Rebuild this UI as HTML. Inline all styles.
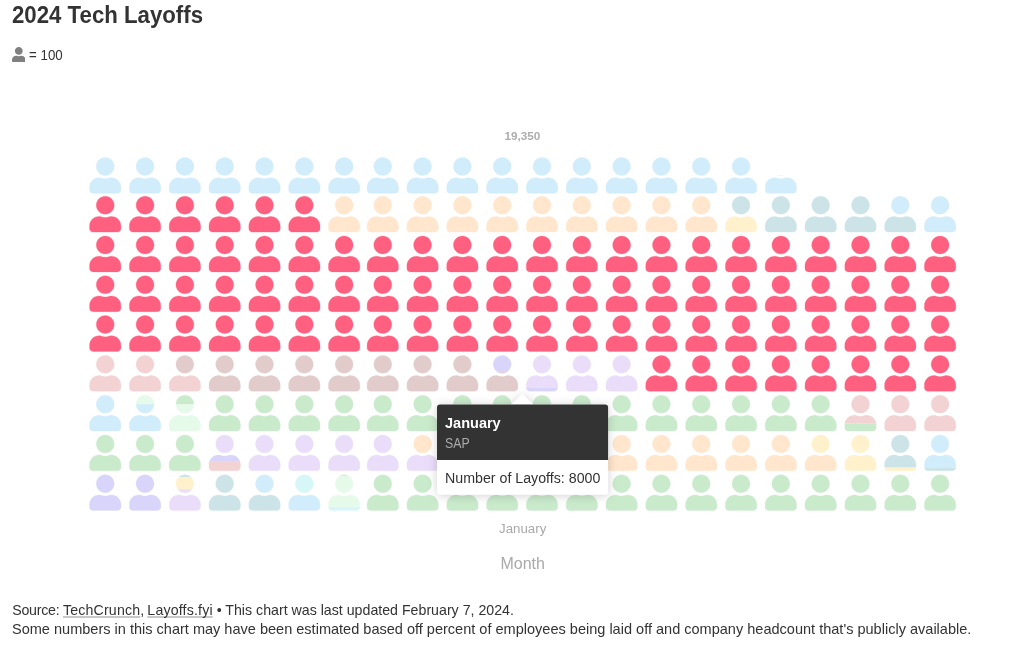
<!DOCTYPE html>
<html lang="en">
<head>
<meta charset="utf-8">
<title>2024 Tech Layoffs</title>
<style>
html,body{margin:0;padding:0;background:#fff;}
body{width:1024px;height:661px;position:relative;overflow:hidden;font-family:"Liberation Sans",sans-serif;color:#333;}
.t{position:absolute;white-space:nowrap;transform-origin:0 0;line-height:1;margin:0;}
h1.t{left:12.2px;top:4.3px;font-size:23px;font-weight:bold;color:#333;transform:scaleX(.966);}
.legend-icon{position:absolute;left:11.6px;top:46.6px;width:13.6px;height:15.5px;}
.legend-label{left:29.2px;top:47.9px;font-size:14.4px;transform:scaleX(.925);}
#chart{position:absolute;left:0;top:0;width:1024px;height:661px;}
/*total*/.total{font:bold 11.8px "Liberation Sans",sans-serif;fill:#adadad;}
.xtick{font:13px "Liberation Sans",sans-serif;fill:#a9a9a9;}
.xtitle{font:16.2px "Liberation Sans",sans-serif;fill:#a9a9a9;}
.tooltip{position:absolute;left:437px;top:404px;width:171px;height:91px;}
.tooltip svg.bg{position:absolute;left:0;top:0;width:171px;height:91px;overflow:visible;filter:drop-shadow(0 1px 5px rgba(0,0,0,.18));}
.tt1{left:7.9px;top:11.9px;font-size:14px;font-weight:bold;color:#fff;transform:scaleX(1.037);}
.tt2{left:7.9px;top:31.7px;font-size:14px;color:#aaa;transform:scaleX(.88);}
.tt3{left:7.9px;top:67px;font-size:14px;color:#333;transform:scaleX(1.015);}
.foot{left:12.2px;font-size:14.2px;color:#333;}
.f1{top:602.8px;transform:scaleX(1.0);}
.f2{top:622.4px;transform:scaleX(1.0241);}
.foot a{color:#333;text-decoration:underline;text-decoration-color:#c8c8c8;text-decoration-thickness:1.5px;text-underline-offset:.8px;text-decoration-skip-ink:none;}
</style>
</head>
<body>
<h1 class="t">2024 Tech Layoffs</h1>
<svg class="legend-icon" viewBox="0 0 448 512"><path fill="#808080" d="M224 256c70.7 0 128-57.3 128-128S294.7 0 224 0 96 57.3 96 128s57.3 128 128 128zm89.6 32h-16.7c-22.2 10.2-46.9 16-72.9 16s-50.600-5.800-72.900-16h-16.700C60.200 288 0 348.200 0 422.400V464c0 26.500 21.500 48 48 48h352c26.500 0 48-21.500 48-48v-41.600c0-74.200-60.200-134.400-134.400-134.400z"/></svg>
<div class="t legend-label">= 100</div>

<svg id="chart" viewBox="0 0 1024 661">
<defs>
<path id="up" d="M224 256c70.7 0 128-57.3 128-128S294.7 0 224 0 96 57.3 96 128s57.3 128 128 128zm89.6 32h-16.7c-22.2 10.2-46.9 16-72.9 16s-50.600-5.800-72.900-16h-16.700C60.200 288 0 348.200 0 422.400V464c0 26.500 21.500 48 48 48h352c26.500 0 48-21.500 48-48v-41.600c0-74.200-60.200-134.400-134.400-134.400z"/>
<symbol id="u" overflow="visible" viewBox="0 0 448 512" width="31.36" height="35.84"><use href="#up"/></symbol>
<mask id="um" maskUnits="userSpaceOnUse" x="-2" y="-2" width="35.36" height="39.84"><use href="#up" transform="scale(0.07)" fill="#fff" stroke="#fff" stroke-opacity=".6" stroke-width="7.14"/></mask>
</defs>
<text class="total" x="522.4" y="140.2" text-anchor="middle" textLength="35.9" lengthAdjust="spacingAndGlyphs">19,350</text>
<g id="icons" stroke-width="7.14" stroke-opacity=".6">
<use href="#u" x="89.57" y="474.73" fill="#d9d4fa" stroke="#d9d4fa"/>
<use href="#u" x="129.39" y="474.73" fill="#d9d4fa" stroke="#d9d4fa"/>
<g transform="translate(169.21 474.73)" mask="url(#um)" stroke="none"><rect x="-2" y="14.44" width="35.36" height="23.40" fill="#eaddfa"/><rect x="-2" y="2.33" width="35.36" height="12.11" fill="#fff1cc"/><rect x="-2" y="-2.00" width="35.36" height="4.33" fill="#cce4e8"/></g>
<use href="#u" x="209.03" y="474.73" fill="#cce4e8" stroke="#cce4e8"/>
<g transform="translate(248.85 474.73)" mask="url(#um)" stroke="none"><rect x="-2" y="19.71" width="35.36" height="18.13" fill="#cce4e8"/><rect x="-2" y="-2.00" width="35.36" height="21.71" fill="#d1ecfb"/></g>
<g transform="translate(288.67 474.73)" mask="url(#um)" stroke="none"><rect x="-2" y="19.71" width="35.36" height="18.13" fill="#d1ecfb"/><rect x="-2" y="-2.00" width="35.36" height="21.71" fill="#d6f6f8"/></g>
<g transform="translate(328.49 474.73)" mask="url(#um)" stroke="none"><rect x="-2" y="32.08" width="35.36" height="5.76" fill="#d6f6f8"/><rect x="-2" y="1.08" width="35.36" height="31.00" fill="#e6faea"/><rect x="-2" y="-2.00" width="35.36" height="3.08" fill="#caeacc"/></g>
<use href="#u" x="367.10" y="474.73" fill="#caeacc" stroke="#caeacc"/>
<use href="#u" x="406.91" y="474.73" fill="#caeacc" stroke="#caeacc"/>
<use href="#u" x="446.72" y="474.73" fill="#caeacc" stroke="#caeacc"/>
<use href="#u" x="486.53" y="474.73" fill="#caeacc" stroke="#caeacc"/>
<use href="#u" x="526.34" y="474.73" fill="#caeacc" stroke="#caeacc"/>
<use href="#u" x="566.15" y="474.73" fill="#caeacc" stroke="#caeacc"/>
<use href="#u" x="605.96" y="474.73" fill="#caeacc" stroke="#caeacc"/>
<use href="#u" x="645.77" y="474.73" fill="#caeacc" stroke="#caeacc"/>
<use href="#u" x="685.58" y="474.73" fill="#caeacc" stroke="#caeacc"/>
<use href="#u" x="725.39" y="474.73" fill="#caeacc" stroke="#caeacc"/>
<use href="#u" x="765.20" y="474.73" fill="#caeacc" stroke="#caeacc"/>
<use href="#u" x="805.01" y="474.73" fill="#caeacc" stroke="#caeacc"/>
<use href="#u" x="844.82" y="474.73" fill="#caeacc" stroke="#caeacc"/>
<use href="#u" x="884.63" y="474.73" fill="#caeacc" stroke="#caeacc"/>
<use href="#u" x="924.44" y="474.73" fill="#caeacc" stroke="#caeacc"/>
<use href="#u" x="89.57" y="434.95" fill="#caeacc" stroke="#caeacc"/>
<use href="#u" x="129.39" y="434.95" fill="#caeacc" stroke="#caeacc"/>
<g transform="translate(169.21 434.95)" mask="url(#um)" stroke="none"><rect x="-2" y="1.00" width="35.36" height="36.84" fill="#caeacc"/><rect x="-2" y="-2.00" width="35.36" height="3.00" fill="#f2d2d2"/></g>
<g transform="translate(209.03 434.95)" mask="url(#um)" stroke="none"><rect x="-2" y="26.16" width="35.36" height="11.68" fill="#f2d2d2"/><rect x="-2" y="19.71" width="35.36" height="6.45" fill="#d9d4fa"/><rect x="-2" y="-2.00" width="35.36" height="21.71" fill="#eaddfa"/></g>
<use href="#u" x="248.85" y="434.95" fill="#eaddfa" stroke="#eaddfa"/>
<use href="#u" x="288.67" y="434.95" fill="#eaddfa" stroke="#eaddfa"/>
<use href="#u" x="328.49" y="434.95" fill="#eaddfa" stroke="#eaddfa"/>
<use href="#u" x="367.10" y="434.95" fill="#eaddfa" stroke="#eaddfa"/>
<g transform="translate(406.91 434.95)" mask="url(#um)" stroke="none"><rect x="-2" y="19.71" width="35.36" height="18.13" fill="#eaddfa"/><rect x="-2" y="-2.00" width="35.36" height="21.71" fill="#ffe6cc"/></g>
<use href="#u" x="446.72" y="434.95" fill="#ffe6cc" stroke="#ffe6cc"/>
<use href="#u" x="486.53" y="434.95" fill="#ffe6cc" stroke="#ffe6cc"/>
<use href="#u" x="526.34" y="434.95" fill="#ffe6cc" stroke="#ffe6cc"/>
<use href="#u" x="566.15" y="434.95" fill="#ffe6cc" stroke="#ffe6cc"/>
<use href="#u" x="605.96" y="434.95" fill="#ffe6cc" stroke="#ffe6cc"/>
<use href="#u" x="645.77" y="434.95" fill="#ffe6cc" stroke="#ffe6cc"/>
<use href="#u" x="685.58" y="434.95" fill="#ffe6cc" stroke="#ffe6cc"/>
<use href="#u" x="725.39" y="434.95" fill="#ffe6cc" stroke="#ffe6cc"/>
<use href="#u" x="765.20" y="434.95" fill="#ffe6cc" stroke="#ffe6cc"/>
<g transform="translate(805.01 434.95)" mask="url(#um)" stroke="none"><rect x="-2" y="19.71" width="35.36" height="18.13" fill="#ffe6cc"/><rect x="-2" y="-2.00" width="35.36" height="21.71" fill="#fff1cc"/></g>
<use href="#u" x="844.82" y="434.95" fill="#fff1cc" stroke="#fff1cc"/>
<g transform="translate(884.63 434.95)" mask="url(#um)" stroke="none"><rect x="-2" y="32.44" width="35.36" height="5.40" fill="#fff1cc"/><rect x="-2" y="-2.00" width="35.36" height="34.44" fill="#cce4e8"/></g>
<g transform="translate(924.44 434.95)" mask="url(#um)" stroke="none"><rect x="-2" y="32.44" width="35.36" height="5.40" fill="#cce4e8"/><rect x="-2" y="-2.00" width="35.36" height="34.44" fill="#d1ecfb"/></g>
<use href="#u" x="89.57" y="395.17" fill="#d1ecfb" stroke="#d1ecfb"/>
<g transform="translate(129.39 395.17)" mask="url(#um)" stroke="none"><rect x="-2" y="8.96" width="35.36" height="28.88" fill="#d1ecfb"/><rect x="-2" y="-2.00" width="35.36" height="10.96" fill="#e6faea"/></g>
<g transform="translate(169.21 395.17)" mask="url(#um)" stroke="none"><rect x="-2" y="8.96" width="35.36" height="28.88" fill="#e6faea"/><rect x="-2" y="-2.00" width="35.36" height="10.96" fill="#caeacc"/></g>
<use href="#u" x="209.03" y="395.17" fill="#caeacc" stroke="#caeacc"/>
<use href="#u" x="248.85" y="395.17" fill="#caeacc" stroke="#caeacc"/>
<use href="#u" x="288.67" y="395.17" fill="#caeacc" stroke="#caeacc"/>
<use href="#u" x="328.49" y="395.17" fill="#caeacc" stroke="#caeacc"/>
<use href="#u" x="367.10" y="395.17" fill="#caeacc" stroke="#caeacc"/>
<use href="#u" x="406.91" y="395.17" fill="#caeacc" stroke="#caeacc"/>
<use href="#u" x="446.72" y="395.17" fill="#caeacc" stroke="#caeacc"/>
<use href="#u" x="486.53" y="395.17" fill="#caeacc" stroke="#caeacc"/>
<use href="#u" x="526.34" y="395.17" fill="#caeacc" stroke="#caeacc"/>
<use href="#u" x="566.15" y="395.17" fill="#caeacc" stroke="#caeacc"/>
<use href="#u" x="605.96" y="395.17" fill="#caeacc" stroke="#caeacc"/>
<use href="#u" x="645.77" y="395.17" fill="#caeacc" stroke="#caeacc"/>
<use href="#u" x="685.58" y="395.17" fill="#caeacc" stroke="#caeacc"/>
<use href="#u" x="725.39" y="395.17" fill="#caeacc" stroke="#caeacc"/>
<use href="#u" x="765.20" y="395.17" fill="#caeacc" stroke="#caeacc"/>
<use href="#u" x="805.01" y="395.17" fill="#caeacc" stroke="#caeacc"/>
<g transform="translate(844.82 395.17)" mask="url(#um)" stroke="none"><rect x="-2" y="28.31" width="35.36" height="9.53" fill="#caeacc"/><rect x="-2" y="-2.00" width="35.36" height="30.31" fill="#f2d2d2"/></g>
<use href="#u" x="884.63" y="395.17" fill="#f2d2d2" stroke="#f2d2d2"/>
<use href="#u" x="924.44" y="395.17" fill="#f2d2d2" stroke="#f2d2d2"/>
<use href="#u" x="89.57" y="355.39" fill="#f2d2d2" stroke="#f2d2d2"/>
<use href="#u" x="129.39" y="355.39" fill="#f2d2d2" stroke="#f2d2d2"/>
<g transform="translate(169.21 355.39)" mask="url(#um)" stroke="none"><rect x="-2" y="19.71" width="35.36" height="18.13" fill="#f2d2d2"/><rect x="-2" y="-2.00" width="35.36" height="21.71" fill="#e2cbcb"/></g>
<use href="#u" x="209.03" y="355.39" fill="#e2cbcb" stroke="#e2cbcb"/>
<use href="#u" x="248.85" y="355.39" fill="#e2cbcb" stroke="#e2cbcb"/>
<use href="#u" x="288.67" y="355.39" fill="#e2cbcb" stroke="#e2cbcb"/>
<use href="#u" x="328.49" y="355.39" fill="#e2cbcb" stroke="#e2cbcb"/>
<use href="#u" x="367.10" y="355.39" fill="#e2cbcb" stroke="#e2cbcb"/>
<use href="#u" x="406.91" y="355.39" fill="#e2cbcb" stroke="#e2cbcb"/>
<use href="#u" x="446.72" y="355.39" fill="#e2cbcb" stroke="#e2cbcb"/>
<g transform="translate(486.53 355.39)" mask="url(#um)" stroke="none"><rect x="-2" y="16.70" width="35.36" height="21.14" fill="#e2cbcb"/><rect x="-2" y="-2.00" width="35.36" height="18.70" fill="#d9d4fa"/></g>
<g transform="translate(526.34 355.39)" mask="url(#um)" stroke="none"><rect x="-2" y="32.61" width="35.36" height="5.23" fill="#d9d4fa"/><rect x="-2" y="-2.00" width="35.36" height="34.61" fill="#eaddfa"/></g>
<use href="#u" x="566.15" y="355.39" fill="#eaddfa" stroke="#eaddfa"/>
<use href="#u" x="605.96" y="355.39" fill="#eaddfa" stroke="#eaddfa"/>
<use href="#u" x="645.77" y="355.39" fill="#ff6080" stroke="#ff6080"/>
<use href="#u" x="685.58" y="355.39" fill="#ff6080" stroke="#ff6080"/>
<use href="#u" x="725.39" y="355.39" fill="#ff6080" stroke="#ff6080"/>
<use href="#u" x="765.20" y="355.39" fill="#ff6080" stroke="#ff6080"/>
<use href="#u" x="805.01" y="355.39" fill="#ff6080" stroke="#ff6080"/>
<use href="#u" x="844.82" y="355.39" fill="#ff6080" stroke="#ff6080"/>
<use href="#u" x="884.63" y="355.39" fill="#ff6080" stroke="#ff6080"/>
<use href="#u" x="924.44" y="355.39" fill="#ff6080" stroke="#ff6080"/>
<use href="#u" x="89.57" y="315.61" fill="#ff6080" stroke="#ff6080"/>
<use href="#u" x="129.39" y="315.61" fill="#ff6080" stroke="#ff6080"/>
<use href="#u" x="169.21" y="315.61" fill="#ff6080" stroke="#ff6080"/>
<use href="#u" x="209.03" y="315.61" fill="#ff6080" stroke="#ff6080"/>
<use href="#u" x="248.85" y="315.61" fill="#ff6080" stroke="#ff6080"/>
<use href="#u" x="288.67" y="315.61" fill="#ff6080" stroke="#ff6080"/>
<use href="#u" x="328.49" y="315.61" fill="#ff6080" stroke="#ff6080"/>
<use href="#u" x="367.10" y="315.61" fill="#ff6080" stroke="#ff6080"/>
<use href="#u" x="406.91" y="315.61" fill="#ff6080" stroke="#ff6080"/>
<use href="#u" x="446.72" y="315.61" fill="#ff6080" stroke="#ff6080"/>
<use href="#u" x="486.53" y="315.61" fill="#ff6080" stroke="#ff6080"/>
<use href="#u" x="526.34" y="315.61" fill="#ff6080" stroke="#ff6080"/>
<use href="#u" x="566.15" y="315.61" fill="#ff6080" stroke="#ff6080"/>
<use href="#u" x="605.96" y="315.61" fill="#ff6080" stroke="#ff6080"/>
<use href="#u" x="645.77" y="315.61" fill="#ff6080" stroke="#ff6080"/>
<use href="#u" x="685.58" y="315.61" fill="#ff6080" stroke="#ff6080"/>
<use href="#u" x="725.39" y="315.61" fill="#ff6080" stroke="#ff6080"/>
<use href="#u" x="765.20" y="315.61" fill="#ff6080" stroke="#ff6080"/>
<use href="#u" x="805.01" y="315.61" fill="#ff6080" stroke="#ff6080"/>
<use href="#u" x="844.82" y="315.61" fill="#ff6080" stroke="#ff6080"/>
<use href="#u" x="884.63" y="315.61" fill="#ff6080" stroke="#ff6080"/>
<use href="#u" x="924.44" y="315.61" fill="#ff6080" stroke="#ff6080"/>
<use href="#u" x="89.57" y="275.83" fill="#ff6080" stroke="#ff6080"/>
<use href="#u" x="129.39" y="275.83" fill="#ff6080" stroke="#ff6080"/>
<use href="#u" x="169.21" y="275.83" fill="#ff6080" stroke="#ff6080"/>
<use href="#u" x="209.03" y="275.83" fill="#ff6080" stroke="#ff6080"/>
<use href="#u" x="248.85" y="275.83" fill="#ff6080" stroke="#ff6080"/>
<use href="#u" x="288.67" y="275.83" fill="#ff6080" stroke="#ff6080"/>
<use href="#u" x="328.49" y="275.83" fill="#ff6080" stroke="#ff6080"/>
<use href="#u" x="367.10" y="275.83" fill="#ff6080" stroke="#ff6080"/>
<use href="#u" x="406.91" y="275.83" fill="#ff6080" stroke="#ff6080"/>
<use href="#u" x="446.72" y="275.83" fill="#ff6080" stroke="#ff6080"/>
<use href="#u" x="486.53" y="275.83" fill="#ff6080" stroke="#ff6080"/>
<use href="#u" x="526.34" y="275.83" fill="#ff6080" stroke="#ff6080"/>
<use href="#u" x="566.15" y="275.83" fill="#ff6080" stroke="#ff6080"/>
<use href="#u" x="605.96" y="275.83" fill="#ff6080" stroke="#ff6080"/>
<use href="#u" x="645.77" y="275.83" fill="#ff6080" stroke="#ff6080"/>
<use href="#u" x="685.58" y="275.83" fill="#ff6080" stroke="#ff6080"/>
<use href="#u" x="725.39" y="275.83" fill="#ff6080" stroke="#ff6080"/>
<use href="#u" x="765.20" y="275.83" fill="#ff6080" stroke="#ff6080"/>
<use href="#u" x="805.01" y="275.83" fill="#ff6080" stroke="#ff6080"/>
<use href="#u" x="844.82" y="275.83" fill="#ff6080" stroke="#ff6080"/>
<use href="#u" x="884.63" y="275.83" fill="#ff6080" stroke="#ff6080"/>
<use href="#u" x="924.44" y="275.83" fill="#ff6080" stroke="#ff6080"/>
<use href="#u" x="89.57" y="236.05" fill="#ff6080" stroke="#ff6080"/>
<use href="#u" x="129.39" y="236.05" fill="#ff6080" stroke="#ff6080"/>
<use href="#u" x="169.21" y="236.05" fill="#ff6080" stroke="#ff6080"/>
<use href="#u" x="209.03" y="236.05" fill="#ff6080" stroke="#ff6080"/>
<use href="#u" x="248.85" y="236.05" fill="#ff6080" stroke="#ff6080"/>
<use href="#u" x="288.67" y="236.05" fill="#ff6080" stroke="#ff6080"/>
<use href="#u" x="328.49" y="236.05" fill="#ff6080" stroke="#ff6080"/>
<use href="#u" x="367.10" y="236.05" fill="#ff6080" stroke="#ff6080"/>
<use href="#u" x="406.91" y="236.05" fill="#ff6080" stroke="#ff6080"/>
<use href="#u" x="446.72" y="236.05" fill="#ff6080" stroke="#ff6080"/>
<use href="#u" x="486.53" y="236.05" fill="#ff6080" stroke="#ff6080"/>
<use href="#u" x="526.34" y="236.05" fill="#ff6080" stroke="#ff6080"/>
<use href="#u" x="566.15" y="236.05" fill="#ff6080" stroke="#ff6080"/>
<use href="#u" x="605.96" y="236.05" fill="#ff6080" stroke="#ff6080"/>
<use href="#u" x="645.77" y="236.05" fill="#ff6080" stroke="#ff6080"/>
<use href="#u" x="685.58" y="236.05" fill="#ff6080" stroke="#ff6080"/>
<use href="#u" x="725.39" y="236.05" fill="#ff6080" stroke="#ff6080"/>
<use href="#u" x="765.20" y="236.05" fill="#ff6080" stroke="#ff6080"/>
<use href="#u" x="805.01" y="236.05" fill="#ff6080" stroke="#ff6080"/>
<use href="#u" x="844.82" y="236.05" fill="#ff6080" stroke="#ff6080"/>
<use href="#u" x="884.63" y="236.05" fill="#ff6080" stroke="#ff6080"/>
<use href="#u" x="924.44" y="236.05" fill="#ff6080" stroke="#ff6080"/>
<use href="#u" x="89.57" y="196.27" fill="#ff6080" stroke="#ff6080"/>
<use href="#u" x="129.39" y="196.27" fill="#ff6080" stroke="#ff6080"/>
<use href="#u" x="169.21" y="196.27" fill="#ff6080" stroke="#ff6080"/>
<use href="#u" x="209.03" y="196.27" fill="#ff6080" stroke="#ff6080"/>
<use href="#u" x="248.85" y="196.27" fill="#ff6080" stroke="#ff6080"/>
<use href="#u" x="288.67" y="196.27" fill="#ff6080" stroke="#ff6080"/>
<use href="#u" x="328.49" y="196.27" fill="#ffe6cc" stroke="#ffe6cc"/>
<use href="#u" x="367.10" y="196.27" fill="#ffe6cc" stroke="#ffe6cc"/>
<use href="#u" x="406.91" y="196.27" fill="#ffe6cc" stroke="#ffe6cc"/>
<use href="#u" x="446.72" y="196.27" fill="#ffe6cc" stroke="#ffe6cc"/>
<use href="#u" x="486.53" y="196.27" fill="#ffe6cc" stroke="#ffe6cc"/>
<use href="#u" x="526.34" y="196.27" fill="#ffe6cc" stroke="#ffe6cc"/>
<use href="#u" x="566.15" y="196.27" fill="#ffe6cc" stroke="#ffe6cc"/>
<use href="#u" x="605.96" y="196.27" fill="#ffe6cc" stroke="#ffe6cc"/>
<use href="#u" x="645.77" y="196.27" fill="#ffe6cc" stroke="#ffe6cc"/>
<use href="#u" x="685.58" y="196.27" fill="#ffe6cc" stroke="#ffe6cc"/>
<g transform="translate(725.39 196.27)" mask="url(#um)" stroke="none"><rect x="-2" y="19.71" width="35.36" height="18.13" fill="#fff1cc"/><rect x="-2" y="-2.00" width="35.36" height="21.71" fill="#cce4e8"/></g>
<use href="#u" x="765.20" y="196.27" fill="#cce4e8" stroke="#cce4e8"/>
<use href="#u" x="805.01" y="196.27" fill="#cce4e8" stroke="#cce4e8"/>
<use href="#u" x="844.82" y="196.27" fill="#cce4e8" stroke="#cce4e8"/>
<g transform="translate(884.63 196.27)" mask="url(#um)" stroke="none"><rect x="-2" y="17.92" width="35.36" height="19.92" fill="#cce4e8"/><rect x="-2" y="-2.00" width="35.36" height="19.92" fill="#d1ecfb"/></g>
<use href="#u" x="924.44" y="196.27" fill="#d1ecfb" stroke="#d1ecfb"/>
<use href="#u" x="89.57" y="157.48" fill="#d1ecfb" stroke="#d1ecfb"/>
<use href="#u" x="129.39" y="157.48" fill="#d1ecfb" stroke="#d1ecfb"/>
<use href="#u" x="169.21" y="157.48" fill="#d1ecfb" stroke="#d1ecfb"/>
<use href="#u" x="209.03" y="157.48" fill="#d1ecfb" stroke="#d1ecfb"/>
<use href="#u" x="248.85" y="157.48" fill="#d1ecfb" stroke="#d1ecfb"/>
<use href="#u" x="288.67" y="157.48" fill="#d1ecfb" stroke="#d1ecfb"/>
<use href="#u" x="328.49" y="157.48" fill="#d1ecfb" stroke="#d1ecfb"/>
<use href="#u" x="367.10" y="157.48" fill="#d1ecfb" stroke="#d1ecfb"/>
<use href="#u" x="406.91" y="157.48" fill="#d1ecfb" stroke="#d1ecfb"/>
<use href="#u" x="446.72" y="157.48" fill="#d1ecfb" stroke="#d1ecfb"/>
<use href="#u" x="486.53" y="157.48" fill="#d1ecfb" stroke="#d1ecfb"/>
<use href="#u" x="526.34" y="157.48" fill="#d1ecfb" stroke="#d1ecfb"/>
<use href="#u" x="566.15" y="157.48" fill="#d1ecfb" stroke="#d1ecfb"/>
<use href="#u" x="605.96" y="157.48" fill="#d1ecfb" stroke="#d1ecfb"/>
<use href="#u" x="645.77" y="157.48" fill="#d1ecfb" stroke="#d1ecfb"/>
<use href="#u" x="685.58" y="157.48" fill="#d1ecfb" stroke="#d1ecfb"/>
<use href="#u" x="725.39" y="157.48" fill="#d1ecfb" stroke="#d1ecfb"/>
<g transform="translate(765.20 157.48)" mask="url(#um)" stroke="none"><rect x="-2" y="17.74" width="35.36" height="20.10" fill="#d1ecfb"/></g>
</g>
<text class="xtick" x="522.7" y="533.4" text-anchor="middle" textLength="47.2" lengthAdjust="spacingAndGlyphs">January</text>
<text class="xtitle" x="522.7" y="568.9" text-anchor="middle" textLength="44.5" lengthAdjust="spacingAndGlyphs">Month</text>
</svg>

<div class="tooltip">
<svg class="bg" viewBox="0 0 171 91">
<path d="M74.2 0.6L85.3 -10.5L96.4 0.6Z" fill="#fff"/>
<rect x="0" y="0.5" width="171.1" height="90.35" rx="3" ry="3" fill="#fff"/>
<path d="M0 55.9V3.5a3 3 0 0 1 3-3H168.1a3 3 0 0 1 3 3V55.9Z" fill="#333"/>
</svg>
<div class="t tt1">January</div>
<div class="t tt2">SAP</div>
<div class="t tt3">Number of Layoffs: 8000</div>
</div>

<div class="t foot f1"><span style="letter-spacing:-.25px">Source: </span><a style="letter-spacing:.15px">TechCrunch</a><span style="letter-spacing:-.4px">, </span><a style="letter-spacing:.16px">Layoffs.fyi</a> • This chart was last updated February 7, 2024.</div>
<div class="t foot f2">Some numbers in this chart may have been estimated based off percent of employees being laid off and company headcount that's publicly available.</div>
</body>
</html>
